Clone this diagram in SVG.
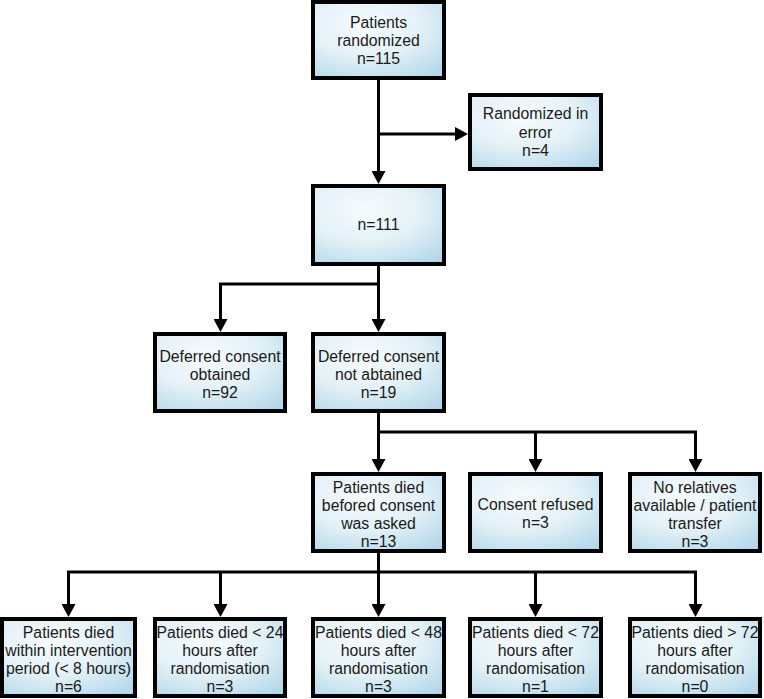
<svg xmlns="http://www.w3.org/2000/svg" width="764" height="699" viewBox="0 0 764 699">
<style>
.box{stroke:#000;stroke-width:4;fill:url(#g)}
.t{font-family:"Liberation Sans",Arial,sans-serif;font-size:15.8px;fill:#1a1a1a;text-anchor:middle}
.c{fill:none;stroke:#000;stroke-width:3}
</style>
<defs>
<radialGradient id="g" cx="0.4" cy="0.3" r="0.85">
<stop offset="0" stop-color="#f7fbfd"/>
<stop offset="0.5" stop-color="#e3f1f7"/>
<stop offset="1" stop-color="#b2d7e9"/>
</radialGradient>
<marker id="a" markerUnits="userSpaceOnUse" markerWidth="13" markerHeight="14" viewBox="0 0 13 14" refX="5" refY="7" orient="auto">
<path d="M0,0 L13,7 L0,14 z" fill="#000"/>
</marker>
</defs>
<g id="connectors">
<path class="c" d="M378.5,80 V176" marker-end="url(#a)"/>
<path class="c" d="M378.5,134 H460" marker-end="url(#a)"/>
<path class="c" d="M378.5,266 V324" marker-end="url(#a)"/>
<path class="c" d="M378.5,284 H220.5 V324" marker-end="url(#a)"/>
<path class="c" d="M378.5,413 V464" marker-end="url(#a)"/>
<path class="c" d="M378.5,432 H695.5 V464" marker-end="url(#a)"/>
<path class="c" d="M535.5,432 V464" marker-end="url(#a)"/>
<path class="c" d="M378.5,553 V609" marker-end="url(#a)"/>
<path class="c" d="M378.5,572 H68.5 V609" marker-end="url(#a)"/>
<path class="c" d="M220.5,572 V609" marker-end="url(#a)"/>
<path class="c" d="M378.5,572 H695.5 V609" marker-end="url(#a)"/>
<path class="c" d="M535.5,572 V609" marker-end="url(#a)"/>
</g>
<g id="randomized">
<rect class="box" x="313" y="2" width="131" height="76"/>
<text class="t" x="378.5" y="28">Patients</text>
<text class="t" x="378.5" y="46">randomized</text>
<text class="t" x="378.5" y="64">n=115</text>
</g>
<g id="error">
<rect class="box" x="470" y="95" width="131" height="74"/>
<text class="t" x="535.5" y="119">Randomized in</text>
<text class="t" x="535.5" y="137.5">error</text>
<text class="t" x="535.5" y="156">n=4</text>
</g>
<g id="n111">
<rect class="box" x="313" y="186" width="131" height="78"/>
<text class="t" x="378.5" y="230">n=111</text>
</g>
<g id="obtained">
<rect class="box" x="155" y="334" width="130" height="77"/>
<text class="t" x="220" y="361.5">Deferred consent</text>
<text class="t" x="220" y="379.5">obtained</text>
<text class="t" x="220" y="397.5">n=92</text>
</g>
<g id="notobtained">
<rect class="box" x="313" y="334" width="131" height="77"/>
<text class="t" x="378.5" y="361.5">Deferred consent</text>
<text class="t" x="378.5" y="379.5">not abtained</text>
<text class="t" x="378.5" y="397.5">n=19</text>
</g>
<g id="died-before">
<rect class="box" x="313" y="474" width="131" height="77"/>
<text class="t" x="378.5" y="492.5">Patients died</text>
<text class="t" x="378.5" y="510.5">befored consent</text>
<text class="t" x="378.5" y="528.5">was asked</text>
<text class="t" x="378.5" y="546.5">n=13</text>
</g>
<g id="refused">
<rect class="box" x="470" y="474" width="131" height="77"/>
<text class="t" x="535.5" y="510">Consent refused</text>
<text class="t" x="535.5" y="528">n=3</text>
</g>
<g id="norelatives">
<rect class="box" x="630" y="474" width="130" height="77"/>
<text class="t" x="695" y="492.5">No relatives</text>
<text class="t" x="695" y="510.5">available / patient</text>
<text class="t" x="695" y="528.5">transfer</text>
<text class="t" x="695" y="546.5">n=3</text>
</g>
<g id="died-8h">
<rect class="box" x="2" y="619" width="133" height="77"/>
<text class="t" x="68.5" y="638">Patients died</text>
<text class="t" x="68.5" y="656">within intervention</text>
<text class="t" x="68.5" y="674">period (&lt; 8 hours)</text>
<text class="t" x="68.5" y="692">n=6</text>
</g>
<g id="died-24h">
<rect class="box" x="155" y="619" width="130" height="77"/>
<text class="t" x="220" y="638">Patients died &lt; 24</text>
<text class="t" x="220" y="656">hours after</text>
<text class="t" x="220" y="674">randomisation</text>
<text class="t" x="220" y="692">n=3</text>
</g>
<g id="died-48h">
<rect class="box" x="313" y="619" width="131" height="77"/>
<text class="t" x="378.5" y="638">Patients died &lt; 48</text>
<text class="t" x="378.5" y="656">hours after</text>
<text class="t" x="378.5" y="674">randomisation</text>
<text class="t" x="378.5" y="692">n=3</text>
</g>
<g id="died-72h">
<rect class="box" x="470" y="619" width="131" height="77"/>
<text class="t" x="535.5" y="638">Patients died &lt; 72</text>
<text class="t" x="535.5" y="656">hours after</text>
<text class="t" x="535.5" y="674">randomisation</text>
<text class="t" x="535.5" y="692">n=1</text>
</g>
<g id="died-over72h">
<rect class="box" x="630" y="619" width="130" height="77"/>
<text class="t" x="695" y="638">Patients died &gt; 72</text>
<text class="t" x="695" y="656">hours after</text>
<text class="t" x="695" y="674">randomisation</text>
<text class="t" x="695" y="692">n=0</text>
</g>
</svg>
